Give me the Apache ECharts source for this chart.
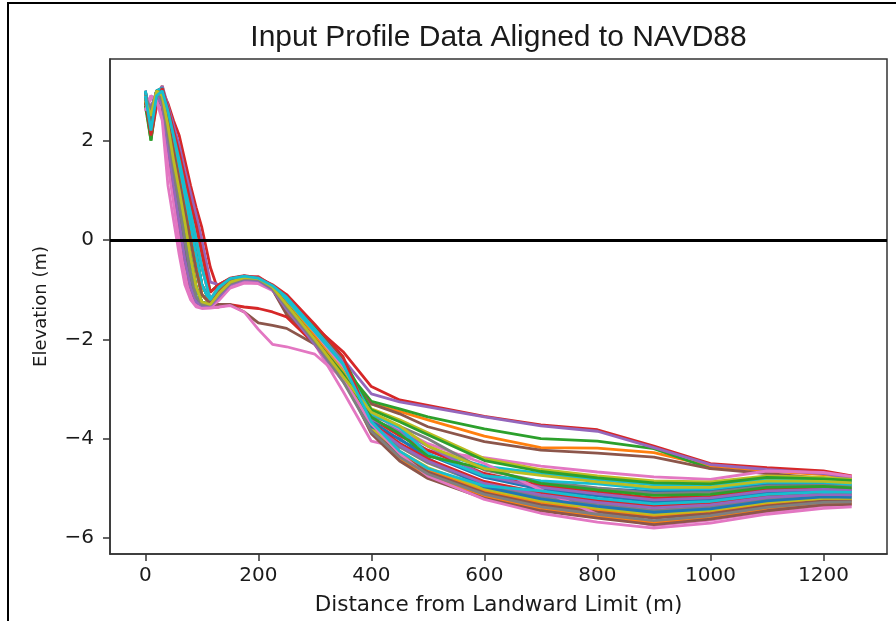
<!DOCTYPE html>
<html><head><meta charset="utf-8">
<script src="https://cdn.jsdelivr.net/npm/echarts@6/dist/echarts.min.js"></script>
<style>html,body{margin:0;padding:0;background:#fff}#c{width:896px;height:621px}</style>
</head><body><div id="c"></div>
<script>
// Distance from landward limit (m) at which each profile elevation is read
const X_DIST = [0,10,20,30,40,50,60,70,80,90,100,115,130,150,175,200,225,250,300,350,400,450,500,600,700,800,900,1000,1100,1200,1250];

// Elevation (m) profiles
const p00 = [2.8,2.5,3.0,2.9,2.3,1.6,1.0,0.35,-0.35,-0.95,-1.25,-1.3,-1.08,-0.85,-0.76,-0.78,-0.95,-1.3,-1.95,-2.6,-3.62,-4.3,-4.78,-5.05,-5.02,-5.0,-5.06,-5.05,-4.92,-4.91,-4.94];
const p01 = [2.95,2.3,2.9,3.1,2.6,2.1,1.6,1.05,0.55,0.0,-0.55,-1.2,-0.95,-0.8,-0.76,-0.82,-1.0,-1.45,-2.05,-2.6,-3.3,-3.45,-3.62,-3.95,-4.18,-4.19,-4.28,-4.55,-4.65,-4.72,-4.8];
const p02 = [2.7,2.0,2.8,3.0,2.65,2.2,1.75,1.25,0.75,0.3,-0.25,-1.05,-0.9,-0.78,-0.74,-0.8,-0.98,-1.4,-2.0,-2.55,-3.25,-3.4,-3.56,-3.8,-4.0,-4.05,-4.2,-4.6,null,null,null];
const p03 = [2.9,2.05,2.7,3.0,2.75,2.4,2.1,1.6,1.1,0.65,0.25,-0.55,-1.05,-0.8,-0.75,-0.74,-0.92,-1.2,-1.75,-2.25,-2.95,-3.22,-3.33,-3.55,-3.72,-3.82,-4.15,-4.5,-4.58,-4.65,-4.75];
const p04 = [3.0,2.3,2.9,3.1,2.7,2.3,1.9,1.4,0.95,0.5,0.0,-0.85,-0.9,-0.78,-0.73,-0.76,-0.92,-1.3,-1.85,-2.4,-3.1,-3.26,-3.36,-3.56,-3.74,-3.85,-4.18,-4.52,-4.62,-4.7,-4.8];
const p05 = [3.0,2.4,3.0,3.05,2.5,2.0,1.4,0.85,0.3,-0.3,-0.9,-1.25,-1.0,-0.82,-0.78,-0.83,-1.0,-1.5,-2.1,-2.65,-3.3,-3.5,-3.76,-4.06,-4.23,-4.29,-4.37,-4.6,-4.7,-4.8,-4.85];
const p06 = [2.7,2.9,2.8,2.6,1.6,0.8,0.0,-0.7,-1.1,-1.3,-1.35,-1.35,-1.2,-0.95,-0.85,-0.85,-1.0,-1.3,-2.1,-3.05,-4.05,-4.18,-4.25,-4.38,-4.55,-4.67,-4.77,-4.82,-4.65,-4.68,-4.76];
const p07 = [2.9,2.6,3.0,2.8,2.1,1.4,0.7,0.0,-0.7,-1.15,-1.3,-1.3,-1.1,-0.88,-0.78,-0.8,-0.98,-1.25,-1.9,-2.7,-3.73,-4.17,-4.49,-4.93,-5.17,-5.32,-5.44,-5.37,-5.22,-5.15,-5.15];
const p08 = [2.9,2.3,2.9,3.0,2.4,1.8,1.2,0.6,0.0,-0.6,-1.1,-1.28,-1.05,-0.83,-0.75,-0.78,-0.95,-1.2,-1.8,-2.5,-3.4,-3.62,-3.88,-4.4,-4.62,-4.75,-4.85,-4.87,-4.75,-4.78,-4.82];
const p09 = [2.75,2.55,2.95,2.9,2.3,1.6,1.0,0.35,-0.35,-0.95,-1.25,-1.3,-1.08,-0.85,-0.76,-0.78,-0.95,-1.3,-2.0,-2.75,-3.45,-3.85,-4.25,-4.55,-4.7,-4.83,-4.93,-4.94,-4.82,-4.83,-4.87];
const p10 = [3.0,2.4,3.0,3.05,2.5,2.0,1.4,0.85,0.3,-0.3,-0.9,-1.25,-1.0,-0.8,-0.74,-0.78,-0.93,-1.2,-1.85,-2.55,-3.64,-4.02,-4.32,-4.78,-5.02,-5.15,-5.27,-5.23,-5.08,-5.04,-5.06];
const p11 = [2.85,2.35,2.9,3.0,2.4,1.8,1.2,0.6,0.0,-0.6,-1.1,-1.28,-1.05,-0.83,-0.75,-0.78,-0.95,-1.25,-1.9,-2.6,-3.8,-4.29,-4.63,-5.05,-5.29,-5.44,-5.56,-5.48,-5.32,-5.23,-5.23];
const p12 = [2.9,2.2,2.95,3.0,2.5,2.0,1.4,0.85,0.3,-0.3,-0.9,-1.25,-1.0,-0.8,-0.74,-0.78,-0.93,-1.15,-1.75,-2.4,-3.42,-3.66,-3.92,-4.44,-4.66,-4.79,-4.89,-4.91,-4.78,-4.81,-4.84];
const p13 = [2.8,2.1,2.9,2.7,1.9,1.1,0.35,-0.4,-0.95,-1.25,-1.32,-1.35,-1.35,-1.3,-1.35,-1.38,-1.45,-1.55,-2.1,-2.8,-3.59,-3.94,-4.23,-4.7,-4.94,-5.07,-5.19,-5.16,-5.02,-4.99,-5.01];
const p14 = [2.9,2.2,2.9,3.0,2.6,2.1,1.6,1.05,0.55,0.0,-0.55,-1.2,-0.95,-0.78,-0.73,-0.77,-0.92,-1.15,-1.8,-2.45,-3.61,-3.85,-4.15,-4.74,-4.98,-5.11,-5.23,-5.19,-5.05,-5.02,-5.03];
const p15 = [2.8,2.6,2.9,2.7,2.0,1.2,0.5,-0.2,-0.85,-1.2,-1.3,-1.32,-1.3,-1.3,-1.45,-1.67,-1.72,-1.78,-2.1,-2.7,-3.83,-4.33,-4.67,-5.09,-5.33,-5.48,-5.6,-5.51,-5.35,-5.25,-5.25];
const p16 = [2.6,2.85,2.75,2.5,1.5,0.75,-0.05,-0.75,-1.15,-1.32,-1.36,-1.36,-1.22,-0.97,-0.87,-0.88,-1.02,-1.25,-1.9,-2.55,-3.5,-3.8,-4.1,-4.5,-5.03,-5.52,-5.75,-5.64,-5.47,-5.35,-5.33];
const p17 = [2.8,2.5,3.0,2.9,2.3,1.6,1.0,0.35,-0.35,-0.95,-1.25,-1.3,-1.08,-0.85,-0.76,-0.78,-0.95,-1.3,-2.0,-2.7,-3.54,-3.75,-4.0,-4.63,-4.86,-4.99,-5.1,-5.08,-4.95,-4.94,-4.96];
const p18 = [2.9,2.3,2.9,3.0,2.4,1.8,1.2,0.6,0.0,-0.6,-1.1,-1.28,-1.05,-0.83,-0.75,-0.78,-0.95,-1.25,-1.95,-2.65,-3.78,-4.25,-4.58,-5.01,-5.25,-5.4,-5.52,-5.44,-5.28,-5.2,-5.2];
const p19 = [3.0,2.4,3.0,3.05,2.5,2.0,1.4,0.85,0.3,-0.3,-0.9,-1.25,-1.0,-0.8,-0.74,-0.78,-0.93,-1.2,-1.85,-2.5,-3.5,-3.78,-4.3,-4.75,-4.85,-4.91,-5.02,-5.01,-4.88,-4.88,-4.92];
const p20 = [2.9,2.6,3.0,2.8,2.1,1.4,0.7,0.0,-0.7,-1.15,-1.3,-1.3,-1.1,-0.88,-0.78,-0.8,-0.98,-1.35,-2.05,-2.8,-3.76,-4.0,-4.4,-4.97,-5.21,-5.36,-5.48,-5.41,-5.25,-5.17,-5.18];
const p21 = [2.9,2.3,2.9,3.0,2.4,1.8,1.2,0.6,0.0,-0.6,-1.1,-1.28,-1.05,-0.83,-0.75,-0.78,-0.95,-1.3,-1.95,-2.7,-3.88,-4.41,-4.76,-5.16,-5.41,-5.56,-5.69,-5.58,-5.42,-5.3,-5.3];
const p22 = [2.8,2.0,3.0,2.9,2.3,1.6,1.0,0.35,-0.35,-0.95,-1.25,-1.3,-1.08,-0.85,-0.76,-0.78,-0.95,-1.3,-2.0,-2.7,-3.57,-3.9,-4.35,-4.6,-4.9,-5.03,-5.14,-5.12,-4.98,-4.96,-4.99];
const p23 = [2.8,2.1,2.8,3.05,2.65,2.2,1.75,1.25,0.75,0.3,-0.25,-1.05,-0.9,-0.77,-0.72,-0.76,-0.9,-1.1,-1.7,-2.35,-3.69,-4.09,-4.41,-4.86,-5.09,-5.24,-5.35,-5.3,-5.15,-5.09,-5.11];
const p24 = [2.8,2.7,2.9,2.7,1.9,1.1,0.35,-0.4,-0.95,-1.25,-1.32,-1.33,-1.15,-0.9,-0.8,-0.82,-1.0,-1.4,-2.1,-2.85,-3.71,-4.13,-4.45,-4.9,-5.13,-5.28,-5.39,-5.33,-5.18,-5.12,-5.13];
const p25 = [2.9,2.3,2.9,3.0,2.4,1.8,1.2,0.6,0.0,-0.6,-1.1,-1.28,-1.05,-0.83,-0.75,-0.78,-0.95,-1.3,-2.0,-2.75,-3.9,-4.45,-4.8,-5.2,-5.45,-5.6,-5.73,-5.62,-5.45,-5.33,-5.32];
const p26 = [2.6,2.9,2.8,2.4,1.1,0.4,-0.3,-0.9,-1.2,-1.35,-1.38,-1.37,-1.35,-1.32,-1.45,-1.8,-2.1,-2.15,-2.3,-2.8,-3.7,-4.3,-4.75,-5.22,-5.5,-5.68,-5.8,-5.7,-5.52,-5.4,-5.37];
const p27 = [2.9,2.6,3.0,2.8,2.1,1.4,0.7,0.0,-0.7,-1.15,-1.3,-1.3,-1.1,-0.88,-0.78,-0.8,-0.98,-1.35,-2.05,-2.85,-3.85,-4.37,-4.71,-5.12,-5.37,-5.52,-5.65,-5.55,-5.38,-5.28,-5.27];
const p28 = [2.8,2.5,3.0,2.9,2.3,1.6,1.0,0.35,-0.35,-0.95,-1.25,-1.3,-1.08,-0.85,-0.76,-0.78,-0.95,-1.3,-2.0,-2.75,-3.47,-3.74,-4.15,-4.6,-4.74,-4.87,-4.98,-4.98,-4.85,-4.86,-4.89];
const p29 = [2.9,2.2,2.9,3.0,2.6,2.1,1.6,1.05,0.55,0.0,-0.55,-1.2,-0.95,-0.78,-0.73,-0.77,-0.92,-1.15,-1.8,-2.5,-3.66,-4.25,-4.6,-4.95,-5.05,-5.2,-5.31,-5.26,-5.12,-5.07,-5.08];

const PROFILE_LIST = [p00,p01,p02,p03,p04,p05,p06,p07,p08,p09,p10,p11,p12,p13,p14,p15,p16,p17,p18,p19,p20,p21,p22,p23,p24,p25,p26,p27,p28,p29];

const X_TICKS = [0,200,400,600,800,1000,1200];
const Y_TICKS = [-6,-4,-2,0,2];
const REF_LEVEL = 0;

const TAB10 = ['#1f77b4','#ff7f0e','#2ca02c','#d62728','#9467bd','#8c564b','#e377c2','#7f7f7f','#bcbd22','#17becf'];
const fmt = v => v < 0 ? '\u2212' + Math.abs(v) : String(v);

const chart = echarts.init(document.getElementById('c'), null, {renderer: 'canvas'});

const series = PROFILE_LIST.map((p, i) => ({
  type: 'line',
  data: X_DIST.map((x, j) => [x, p[j]]),
  showSymbol: false,
  symbol: 'none',
  connectNulls: false,
  silent: true,
  lineStyle: {width: 2.8, color: TAB10[i % 10]},
  itemStyle: {color: TAB10[i % 10]},
  z: 2
}));
series[series.length - 1].markLine = {
  silent: true,
  symbol: ['none', 'none'],
  label: {show: false},
  lineStyle: {color: '#000', width: 3, type: 'solid'},
  data: [{yAxis: REF_LEVEL}]
};

const tickFont = {fontFamily: 'DejaVu Sans', fontSize: 20, color: '#1a1a1a'};

chart.setOption({
  animation: false,
  backgroundColor: '#fff',
  grid: {left: 110, top: 59, right: 9, bottom: 67, show: true, borderColor: '#333', borderWidth: 1.5, backgroundColor: 'transparent'},
  xAxis: {
    type: 'value', min: -62.5, max: 1312.5,
    axisLine: {show: true, onZero: false, lineStyle: {color: '#333', width: 1.5}},
    axisTick: {show: true, length: 7, customValues: X_TICKS, lineStyle: {color: '#333', width: 1.5}},
    axisLabel: Object.assign({customValues: X_TICKS, formatter: fmt, margin: 12}, tickFont),
    splitLine: {show: false},
    name: 'Distance from Landward Limit (m)', nameLocation: 'middle', nameGap: 40,
    nameTextStyle: {fontFamily: 'DejaVu Sans', fontSize: 21.5, color: '#1a1a1a'}
  },
  yAxis: {
    type: 'value', min: -6.32, max: 3.64,
    axisLine: {show: true, onZero: false, lineStyle: {color: '#333', width: 1.5}},
    axisTick: {show: true, length: 7, customValues: Y_TICKS, lineStyle: {color: '#333', width: 1.5}},
    axisLabel: Object.assign({customValues: Y_TICKS, formatter: fmt, margin: 16}, tickFont),
    splitLine: {show: false},
    name: 'Elevation (m)', nameLocation: 'middle', nameGap: 60, nameRotate: 90,
    nameTextStyle: {fontFamily: 'DejaVu Sans', fontSize: 18, color: '#1a1a1a'}
  },
  graphic: [
    {type: 'polyline', shape: {points: [[8, 621], [8, 3], [896, 3]]}, style: {stroke: '#000', lineWidth: 2, fill: null}, silent: true},
    {type: 'text', x: 498.5, y: 38, style: {text: 'Input Profile Data Aligned to NAVD88', font: '30px "Liberation Sans"', fill: '#1a1a1a', textAlign: 'center', textVerticalAlign: 'middle'}, silent: true}
  ],
  series: series
});
</script></body></html>
